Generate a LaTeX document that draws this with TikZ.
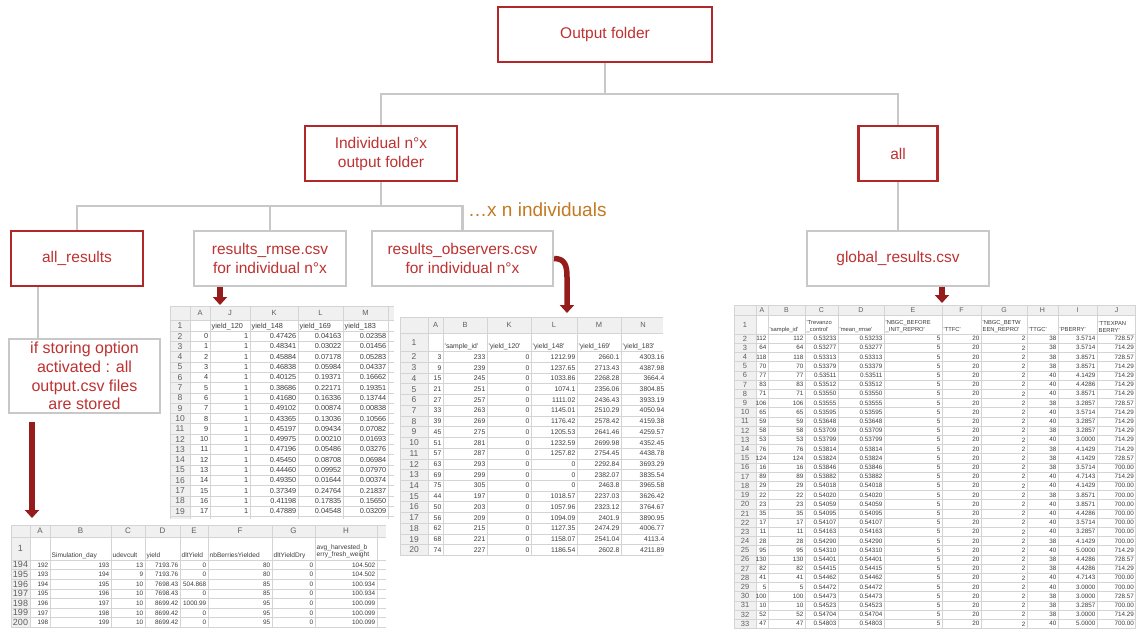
\documentclass[tikz,border=0pt]{standalone}
\usepackage{fontspec}
\setmainfont{Liberation Sans}
\usetikzlibrary{arrows.meta,calc,backgrounds}

\definecolor{boxred}{RGB}{176,40,40}
\definecolor{txtred}{RGB}{190,50,50}
\definecolor{linegrey}{RGB}{200,200,200}
\definecolor{arrowred}{RGB}{150,28,28}
\definecolor{noteorange}{RGB}{196,122,34}
\definecolor{gridline}{RGB}{212,212,212}
\definecolor{headfill}{RGB}{240,240,240}
\definecolor{celltxt}{RGB}{60,60,60}
\definecolor{headtxt}{RGB}{95,95,95}

\newcommand\sheetq{\textquotesingle}

\tikzset{
  folder/.style={draw=boxred, line width=2.2pt, fill=white, text=txtred,
    align=center, inner sep=0pt, minimum height=55pt,
    font=\fontsize{15.5}{19}\selectfont},
  filebox/.style={folder, draw=linegrey},
  tree/.style={draw=linegrey, line width=2.5pt},
  bigarrow/.style={draw=arrowred, line width=5.5pt,
    -{Triangle[width=14pt,length=8pt]}},
  gridl/.style={draw=gridline, line width=0.6pt},
  cellnum/.style={inner sep=0pt, text=celltxt, anchor=east},
  celllab/.style={inner sep=0pt, text=celltxt, anchor=base west},
  celllab2/.style={inner sep=0pt, text=celltxt, anchor=south west, align=left},
  cellhead/.style={inner sep=0pt, text=celltxt, anchor=west},
  colhead/.style={inner sep=0pt, text=headtxt},
  rowhead/.style={inner sep=0pt, text=headtxt},
}

\begin{document}
\begin{tikzpicture}[x=1pt,y=-1pt]
\useasboundingbox (0,0) rectangle (1136,633);

% ---------------- folder tree ----------------
\node[folder, minimum width=214pt] (of) at (605,34.5) {Output folder};
\node[folder, minimum width=152pt] (ind) at (381,153.5) {Individual n°x\\output folder};
\node[folder, minimum width=79pt] (allb) at (898,153.5) {all};
\node[folder, minimum width=132pt] (allres) at (77,258.5) {all\_results};
\node[filebox, minimum width=152pt] (rmse) at (270,258.5) {results\_rmse.csv\\for individual n°x};
\node[filebox, minimum width=181pt] (obs) at (462.5,258.5) {results\_observers.csv\\for individual n°x};
\node[filebox, minimum width=182pt] (glob) at (898,258.5) {global\_results.csv};
\node[filebox, minimum width=151pt, minimum height=74pt,
      font=\fontsize{16}{18.8}\selectfont] (store) at (84.5,376)
      {if storing option\\activated : all\\output.csv files\\are stored};
\node[anchor=west, text=noteorange, inner sep=0pt,
      font=\fontsize{19}{22}\selectfont] (note) at (468,210) {…x n individuals};

\coordinate (bus1) at (605,94);
\coordinate (bus2) at (381,206);

\begin{pgfonlayer}{background}
  \fill[white] (0,0) rectangle (1136,633);
  \draw[tree] (of.south) -- (bus1);
  \draw[tree] (ind.north) |- (bus1) -| (allb.north);
  \draw[tree] (ind.south) -- (bus2);
  \draw[tree] (allres.north) |- (bus2) -| (obs.north);
  \draw[tree] (rmse.north) -- (rmse.north |- bus2);
  \draw[tree] (allb.south) -- (glob.north);
  \draw[tree] ([xshift=-39pt]allres.south) -- ([xshift=-39pt]allres.south |- store.north);
\end{pgfonlayer}

% ---------------- sheet: output.csv of one simulation ----------------
\begin{scope}[every node/.append style={font=\fontsize{6.4}{7.2}\selectfont}]
  \clip (11,525) rectangle (386,627.5);
  \fill[headfill] (11,525) rectangle (386,537);
  \fill[headfill] (11,537) rectangle (30,627.5);
  \foreach \x in {11,30,50,111,145,180,208,272,315,377}
    \draw[gridl] (\x,525) -- (\x,627.5);
  \draw[gridl] (11,525.3) -- (386,525.3);
  \draw[gridl] (11,537) -- (386,537);
  \foreach \k in {0,...,7}
    \draw[gridl] (11,{560+9.6*\k}) -- (386,{560+9.6*\k});
  \foreach \l/\xa/\xb in {A/30/50,B/50/111,C/111/145,D/145/180,E/180/208,F/208/272,G/272/315,H/315/377}
    \node[colhead, font=\fontsize{8}{9}\selectfont] (sa-\l) at ({(\xa+\xb)/2},531) {\l};
  \node[rowhead, font=\fontsize{9}{10}\selectfont] (sa-r1) at (20.5,548.5) {1};
  \begin{scope}[every node/.append style={font=\fontsize{6.6}{7.4}\selectfont}]
    \node[celllab] (sa-hb) at (51.5,557) {Simulation\_day};
    \node[celllab] (sa-hc) at (112.5,557) {udevcult};
    \node[celllab] (sa-hd) at (146.5,557) {yield};
    \node[celllab] (sa-he) at (181.5,557) {dltYield};
    \node[celllab] (sa-hf) at (209.5,557) {nbBerriesYielded};
    \node[celllab] (sa-hg) at (273.5,557) {dltYieldDry};
    \node[celllab2] (sa-hh) at (316.5,558.5) {avg\_harvested\_b\\erry\_fresh\_weight};
  \end{scope}
  \foreach \rw/\va/\vb/\vc/\vd/\ve/\vf/\vg/\vh [count=\i] in {
      194/192/193/13/7193.76/0/80/0/104.502,
      195/193/194/9/7193.76/0/80/0/104.502,
      196/194/195/10/7698.43/504.868/85/0/100.934,
      197/195/196/10/7698.43/0/85/0/100.934,
      198/196/197/10/8699.42/1000.99/95/0/100.099,
      199/197/198/10/8699.42/0/95/0/100.099,
      200/198/199/10/8699.42/0/95/0/100.099}{
    \pgfmathsetmacro\yy{560+9.6*(\i-0.5)}
    \node[rowhead, font=\fontsize{9}{10}\selectfont] (sa-n\i) at (20.5,\yy) {\rw};
    \node[cellnum] (sa-\i-a) at (48.5,\yy) {\va};
    \node[cellnum] (sa-\i-b) at (109.5,\yy) {\vb};
    \node[cellnum] (sa-\i-c) at (143.5,\yy) {\vc};
    \node[cellnum] (sa-\i-d) at (178.5,\yy) {\vd};
    \node[cellnum] (sa-\i-e) at (206.5,\yy) {\ve};
    \node[cellnum] (sa-\i-f) at (270.5,\yy) {\vf};
    \node[cellnum] (sa-\i-g) at (313.5,\yy) {\vg};
    \node[cellnum] (sa-\i-h) at (375.5,\yy) {\vh};
  }
\end{scope}

% ---------------- sheet: results_rmse.csv ----------------
\begin{scope}[every node/.append style={font=\fontsize{7.3}{8}\selectfont}]
  \clip (170,306) rectangle (394,519);
  \fill[headfill] (170,306) rectangle (394,320);
  \fill[headfill] (170,320) rectangle (190,519);
  \foreach \x in {170,190,210,250,298,343,388}
    \draw[gridl] (\x,306) -- (\x,519);
  \draw[gridl] (170,306.3) -- (394,306.3);
  \draw[gridl] (170,320) -- (394,320);
  \foreach \k in {0,...,18}
    \draw[gridl] (170,{331+10.3*\k}) -- (394,{331+10.3*\k});
  \foreach \l/\xa/\xb in {A/190/210,J/210/250,K/250/298,L/298/343,M/343/388}
    \node[colhead, font=\fontsize{7.5}{8}\selectfont] (sb-\l) at ({(\xa+\xb)/2},313) {\l};
  \node[rowhead, font=\fontsize{8.5}{9}\selectfont] (sb-r1) at (180,325.5) {1};
  \node[celllab] (sb-hj) at (211.5,328.3) {yield\_120};
  \node[celllab] (sb-hk) at (251.5,328.3) {yield\_148};
  \node[celllab] (sb-hl) at (299.5,328.3) {yield\_169};
  \node[celllab] (sb-hm) at (344.5,328.3) {yield\_183};
  \foreach \vk/\vl/\vm [count=\i] in {
      0.47426/0.04163/0.02358,
      0.48341/0.03022/0.01456,
      0.45884/0.07178/0.05283,
      0.46838/0.05984/0.04337,
      0.40125/0.19371/0.16662,
      0.38686/0.22171/0.19351,
      0.41680/0.16336/0.13744,
      0.49102/0.00874/0.00838,
      0.43365/0.13036/0.10566,
      0.45197/0.09434/0.07082,
      0.49975/0.00210/0.01693,
      0.47196/0.05486/0.03276,
      0.45450/0.08708/0.06984,
      0.44460/0.09952/0.07970,
      0.49350/0.01644/0.00374,
      0.37349/0.24764/0.21837,
      0.41198/0.17835/0.15650,
      0.47889/0.04548/0.03209}{
    \pgfmathsetmacro\yy{331+10.3*(\i-0.5)}
    \pgfmathtruncatemacro\rw{\i+1}
    \pgfmathtruncatemacro\va{\i-1}
    \node[rowhead, font=\fontsize{8.5}{9}\selectfont] (sb-n\i) at (180,\yy) {\rw};
    \node[cellnum] (sb-\i-a) at (208.5,\yy) {\va};
    \node[cellnum] (sb-\i-j) at (248.5,\yy) {1};
    \node[cellnum] (sb-\i-k) at (296.5,\yy) {\vk};
    \node[cellnum] (sb-\i-l) at (341.5,\yy) {\vl};
    \node[cellnum] (sb-\i-m) at (386.5,\yy) {\vm};
  }
\end{scope}

% ---------------- sheet: results_observers.csv ----------------
\begin{scope}[every node/.append style={font=\fontsize{6.8}{7.5}\selectfont}]
  \clip (400,317) rectangle (663,556);
  \fill[headfill] (400,317) rectangle (663,333);
  \fill[headfill] (400,333) rectangle (428,556);
  \foreach \x in {400,428,443,487,531,577,621}
    \draw[gridl] (\x,317) -- (\x,556);
  \draw[gridl] (400,317.3) -- (663,317.3);
  \draw[gridl] (400,333) -- (663,333);
  \foreach \k in {0,...,19}
    \draw[gridl] (400,{351.6+10.72*\k}) -- (663,{351.6+10.72*\k});
  \foreach \l/\xa/\xb in {A/428/443,B/443/487,K/487/531,L/531/577,M/577/621,N/621/665}
    \node[colhead, font=\fontsize{7.5}{8}\selectfont] (sc-\l) at ({(\xa+\xb)/2},325) {\l};
  \node[rowhead, font=\fontsize{8.5}{9}\selectfont] (sc-r1) at (414,342.3) {1};
  \node[celllab] (sc-hb) at (444.5,348.5) {\sheetq sample\_id\sheetq};
  \node[celllab] (sc-hk) at (488.5,348.5) {\sheetq yield\_120\sheetq};
  \node[celllab] (sc-hl) at (532.5,348.5) {\sheetq yield\_148\sheetq};
  \node[celllab] (sc-hm) at (578.5,348.5) {\sheetq yield\_169\sheetq};
  \node[celllab] (sc-hn) at (622.5,348.5) {\sheetq yield\_183\sheetq};
  \foreach \va/\vb/\vl/\vm/\vn [count=\i] in {
      3/233/1212.99/2660.1/4303.16,
      9/239/1237.65/2713.43/4387.98,
      15/245/1033.86/2268.28/3664.4,
      21/251/1074.1/2356.06/3804.85,
      27/257/1111.02/2436.43/3933.19,
      33/263/1145.01/2510.29/4050.94,
      39/269/1176.42/2578.42/4159.38,
      45/275/1205.53/2641.46/4259.57,
      51/281/1232.59/2699.98/4352.45,
      57/287/1257.82/2754.45/4438.78,
      63/293/0/2292.84/3693.29,
      69/299/0/2382.07/3835.54,
      75/305/0/2463.8/3965.58,
      44/197/1018.57/2237.03/3626.42,
      50/203/1057.96/2323.12/3764.67,
      56/209/1094.09/2401.9/3890.95,
      62/215/1127.35/2474.29/4006.77,
      68/221/1158.07/2541.04/4113.4,
      74/227/1186.54/2602.8/4211.89}{
    \pgfmathsetmacro\yy{351.6+10.72*(\i-0.5)}
    \pgfmathtruncatemacro\rw{\i+1}
    \node[rowhead, font=\fontsize{8.5}{9}\selectfont] (sc-n\i) at (414,\yy) {\rw};
    \node[cellnum] (sc-\i-a) at (441.5,\yy) {\va};
    \node[cellnum] (sc-\i-b) at (485.5,\yy) {\vb};
    \node[cellnum] (sc-\i-k) at (529.5,\yy) {0};
    \node[cellnum] (sc-\i-l) at (575.5,\yy) {\vl};
    \node[cellnum] (sc-\i-m) at (619.5,\yy) {\vm};
    \node[cellnum] (sc-\i-n) at (664.5,\yy) {\vn};
  }
\end{scope}

% ---------------- sheet: global_results.csv ----------------
\begin{scope}[every node/.append style={font=\fontsize{6.3}{7}\selectfont}]
  \clip (734,305) rectangle (1136,629);
  \fill[headfill] (734,305) rectangle (1136,315);
  \fill[headfill] (734,315) rectangle (756,629);
  \foreach \x in {734,756,768,805,838,884,942,981,1027,1058,1097,1135.6}
    \draw[gridl] (\x,305) -- (\x,629);
  \draw[gridl] (734,305.3) -- (1136,305.3);
  \draw[gridl] (734,315) -- (1136,315);
  \foreach \k in {0,...,32}
    \draw[gridl] (734,{334+9.2*\k}) -- (1136,{334+9.2*\k});
  \foreach \l/\xa/\xb in {A/756/768,B/768/805,C/805/838,D/838/884,E/884/942,F/942/981,G/981/1027,H/1027/1058,I/1058/1097,J/1097/1136}
    \node[colhead, font=\fontsize{7}{8}\selectfont] (sd-\l) at ({(\xa+\xb)/2},310.2) {\l};
  \node[rowhead, font=\fontsize{7.5}{8}\selectfont] (sd-r1) at (745,324.5) {1};
  \begin{scope}[every node/.append style={font=\fontsize{5.8}{6.6}\selectfont}]
    \node[celllab] (sd-hb) at (769.5,331.2) {\sheetq sample\_id\sheetq};
    \node[celllab2] (sd-hc) at (806.5,332.5) {\sheetq Trevanzo\\\_control\sheetq};
    \node[celllab] (sd-hd) at (839.5,331.2) {\sheetq mean\_rmse\sheetq};
    \node[celllab2] (sd-he) at (885.5,332.5) {\sheetq NBGC\_BEFORE\\\_INIT\_REPRO\sheetq};
    \node[celllab] (sd-hf) at (943.5,331.2) {\sheetq TTFC\sheetq};
    \node[celllab2] (sd-hg) at (982.5,332.5) {\sheetq NBGC\_BETW\\EEN\_REPRO\sheetq};
    \node[celllab] (sd-hh) at (1028.5,331.2) {\sheetq TTGC\sheetq};
    \node[celllab] (sd-hi) at (1059.5,331.2) {\sheetq PBERRY\sheetq};
    \node[celllab2] (sd-hj) at (1098.5,332.5) {\sheetq TTEXPAN\\BERRY\sheetq};
  \end{scope}
  \foreach \va/\vc/\vh/\vi/\vj [count=\i] in {
      112/0.53233/38/3.5714/728.57,
      64/0.53277/38/3.5714/714.29,
      118/0.53313/38/3.8571/728.57,
      70/0.53379/38/3.8571/714.29,
      77/0.53511/40/4.1429/714.29,
      83/0.53512/40/4.4286/714.29,
      71/0.53550/40/3.8571/714.29,
      106/0.53555/38/3.2857/728.57,
      65/0.53595/40/3.5714/714.29,
      59/0.53648/40/3.2857/714.29,
      58/0.53709/38/3.2857/714.29,
      53/0.53799/40/3.0000/714.29,
      76/0.53814/38/4.1429/714.29,
      124/0.53824/38/4.1429/728.57,
      16/0.53846/38/3.5714/700.00,
      89/0.53882/40/4.7143/714.29,
      29/0.54018/40/4.1429/700.00,
      22/0.54020/38/3.8571/700.00,
      23/0.54059/40/3.8571/700.00,
      35/0.54095/40/4.4286/700.00,
      17/0.54107/40/3.5714/700.00,
      11/0.54163/40/3.2857/700.00,
      28/0.54290/38/4.1429/700.00,
      95/0.54310/40/5.0000/714.29,
      130/0.54401/38/4.4286/728.57,
      82/0.54415/38/4.4286/714.29,
      41/0.54462/40/4.7143/700.00,
      5/0.54472/40/3.0000/700.00,
      100/0.54473/38/3.0000/728.57,
      10/0.54523/38/3.2857/700.00,
      52/0.54704/38/3.0000/714.29,
      47/0.54803/40/5.0000/700.00}{
    \pgfmathsetmacro\yy{334+9.2*(\i-0.5)}
    \pgfmathtruncatemacro\rw{\i+1}
    \node[rowhead, font=\fontsize{7.5}{8}\selectfont] (sd-n\i) at (745,\yy) {\rw};
    \node[cellnum] (sd-\i-a) at (766.5,\yy) {\va};
    \node[cellnum] (sd-\i-b) at (803.5,\yy) {\va};
    \node[cellnum] (sd-\i-c) at (836.5,\yy) {\vc};
    \node[cellnum] (sd-\i-d) at (882.5,\yy) {\vc};
    \node[cellnum] (sd-\i-e) at (940.5,\yy) {5};
    \node[cellnum] (sd-\i-f) at (979.5,\yy) {20};
    \node[cellnum] (sd-\i-g) at (1025.5,\yy) {2};
    \node[cellnum] (sd-\i-h) at (1056.5,\yy) {\vh};
    \node[cellnum] (sd-\i-i) at (1095.5,\yy) {\vi};
    \node[cellnum] (sd-\i-j) at (1134,\yy) {\vj};
  }
\end{scope}

% ---------------- arrows from the files to their contents ----------------
\coordinate (inA) at (32,518);
\coordinate (inB) at (220,305);
\coordinate (bendC) at (567,277);
\coordinate (inC) at (567,313);
\coordinate (inD) at (942,303);

\draw[bigarrow] ([yshift=-8pt]store.south -| inA) -- (inA);
\draw[bigarrow] (rmse.south -| inB) -- (inB);
\draw[bigarrow] (obs.east) .. controls +(11,0) and +(0,-11) .. (bendC) -- (inC);
\draw[bigarrow] (glob.south -| inD) -- (inD);

\end{tikzpicture}
\end{document}
